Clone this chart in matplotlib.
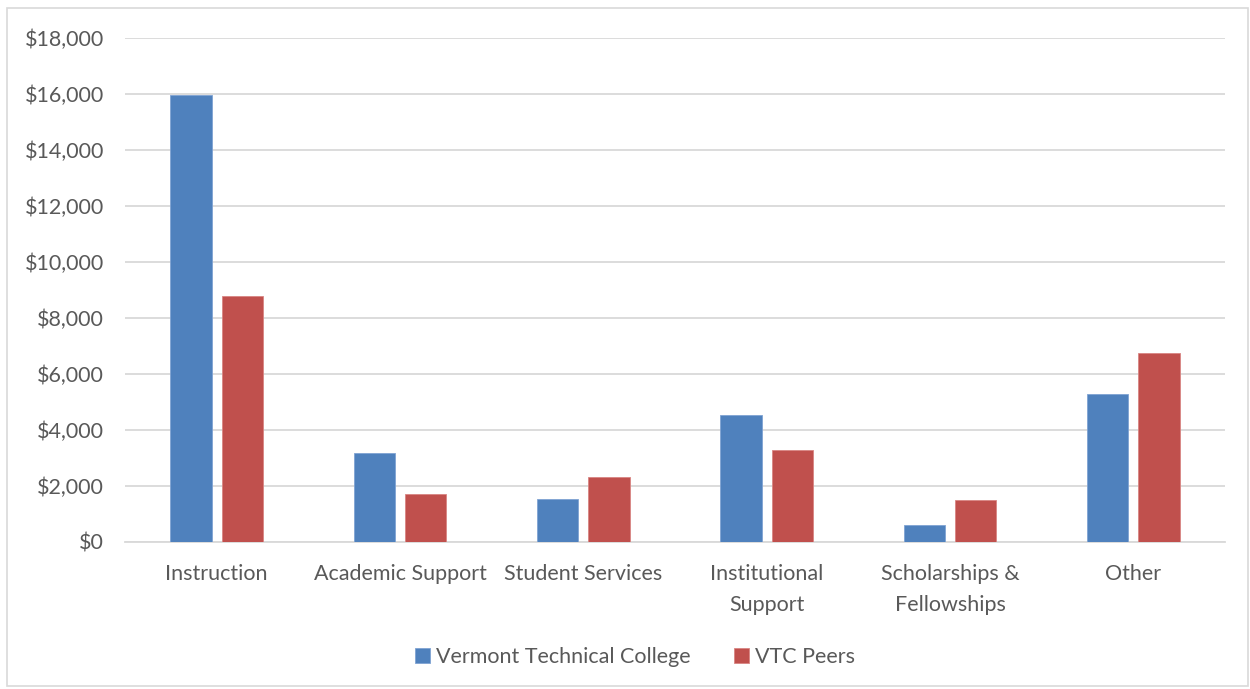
import matplotlib
matplotlib.use("Agg")
import matplotlib.pyplot as plt
import numpy as np
from matplotlib.patches import Rectangle

categories = ["Instruction", "Academic Support", "Student Services",
              "Institutional\nSupport", "Scholarships &\nFellowships", "Other"]
vtc = [15970, 3190, 1520, 4550, 610, 5290]
peers = [8800, 1710, 2320, 3300, 1500, 6750]
series_names = ["Vermont Technical College", "VTC Peers"]
yticks = list(range(0, 18001, 2000))
ytick_labels = ["${:,}".format(v) for v in yticks]

plt.rcParams['font.family'] = ['Lato', 'DejaVu Sans']
text_color = "#595959"
grid_color = "#D9D9D9"
fs = 15.5

fig = plt.figure(figsize=(12.5, 6.89), dpi=100)
ax = fig.add_axes([0.1, 1 - 542 / 689, 0.88, (542 - 38) / 689])

x = np.arange(len(categories))
w = 0.225
off = 0.14
ax.bar(x - off, vtc, width=w, color="#4F81BD", edgecolor="#7FA3D3", linewidth=0.6,
       label=series_names[0], zorder=3)
ax.bar(x + off, peers, width=w, color="#C0504D", edgecolor="#D98583", linewidth=0.6,
       label=series_names[1], zorder=3)

ax.set_xlim(-0.5, len(categories) - 0.5)
ax.set_ylim(0, 18000)
ax.set_yticks(yticks)
ax.set_yticklabels(ytick_labels)
ax.set_xticks(x)
ax.set_xticklabels(categories, linespacing=1.68)
ax.tick_params(axis='y', length=0, pad=15, labelsize=fs, labelcolor=text_color)
ax.tick_params(axis='x', length=0, pad=16, labelsize=fs, labelcolor=text_color)
ax.yaxis.grid(True, color=grid_color, linewidth=1.3, zorder=0)
ax.set_axisbelow(True)
for s in ["top", "right", "left"]:
    ax.spines[s].set_visible(False)
ax.spines["bottom"].set_color(grid_color)
ax.spines["bottom"].set_linewidth(1.3)

fig.legend(loc="center", bbox_to_anchor=(635 / 1250, 1 - 657 / 689), ncol=2,
           frameon=False, fontsize=fs, labelcolor=text_color,
           handlelength=0.7, handleheight=0.7, handletextpad=0.3,
           columnspacing=2.0)

fig.patches.append(Rectangle((7 / 1250, 1 - 686 / 689), 1241 / 1250, 678 / 689,
                             transform=fig.transFigure, fill=False,
                             edgecolor=grid_color, linewidth=1.2))

fig.savefig("out.png", dpi=100)
